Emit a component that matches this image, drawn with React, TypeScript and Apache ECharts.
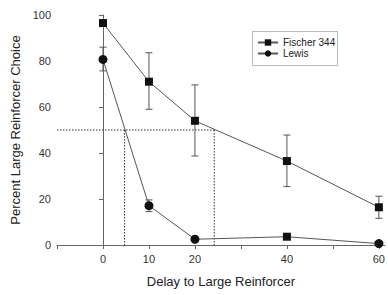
import React, { useEffect, useRef } from "react";
import * as echarts from "echarts";

const delays = [0, 10, 20, 40, 60];
const tickLabels = ["0", "10", "20", "40", "60"];
const fischerMean = [96.5, 71, 54, 36.5, 16.4];
const fischerLow = [96.5, 59, 38.7, 25.4, 11.6];
const fischerHigh = [96.5, 83.6, 69.6, 47.8, 21.2];
const lewisMean = [80.7, 17.1, 2.5, 3.6, 0.6];
const lewisLow = [75.7, 14.5, 2.5, 3.6, 0.6];
const lewisHigh = [86, 19.6, 2.5, 3.6, 0.6];
const lewisSymbols = ["circle", "circle", "circle", "rect", "circle"];
const halfPoint = 50;
const fischerCross = 24.2;
const lewisCross = 4.7;

export default function App() {
  const ref = useRef<HTMLDivElement>(null);
  useEffect(() => {
    if (!ref.current) return;
    const chart = echarts.init(ref.current, null, { renderer: "svg" });
    const errData = [
      ...delays.map((d, i) => [d, fischerLow[i], fischerHigh[i]]),
      ...delays.map((d, i) => [d, lewisLow[i], lewisHigh[i]]),
    ].filter((r) => r[2] - r[1] > 0.5);
    const font = "'Liberation Sans', Arial, sans-serif";
    const refStyle = { type: [1.5, 1.5], color: "#333", width: 1 };
    chart.setOption({
      animation: false,
      textStyle: { fontFamily: font },
      grid: { left: 57, right: 0, top: 15, bottom: 50, containLabel: false },
      legend: {
        orient: "vertical",
        left: 257,
        top: 37,
        itemWidth: 20,
        itemHeight: 8,
        itemGap: 0,
        padding: 0,
        textStyle: { fontSize: 10, color: "#222", fontFamily: font, lineHeight: 11 },
        data: ["Fischer 344", "Lewis"],
      },
      graphic: [
        {
          type: "rect",
          shape: { x: 252.5, y: 31.5, width: 85, height: 34 },
          style: { fill: "none", stroke: "#777", lineWidth: 1, lineDash: [1, 1] },
          z: 10,
        },
      ],
      xAxis: {
        type: "value",
        min: -10,
        max: 61.3,
        interval: 10,
        name: "Delay to Large Reinforcer",
        nameLocation: "middle",
        nameGap: 30,
        nameTextStyle: { fontSize: 13, color: "#222", fontFamily: font },
        splitLine: { show: false },
        axisLine: { lineStyle: { color: "#666" } },
        axisTick: { length: 4, lineStyle: { color: "#666" } },
        axisLabel: {
          fontSize: 11,
          color: "#333",
          margin: 8,
          showMaxLabel: false,
          formatter: (v: number) => {
            const idx = delays.indexOf(Math.round(v));
            return idx >= 0 && Math.abs(v - delays[idx]) < 0.01 ? tickLabels[idx] : "";
          },
        },
      },
      yAxis: {
        type: "value",
        min: 0,
        max: 100,
        interval: 20,
        name: "Percent Large Reinforcer Choice",
        nameLocation: "middle",
        nameGap: 30,
        nameTextStyle: { fontSize: 13, color: "#222", fontFamily: font },
        splitLine: { show: false },
        axisLine: { show: true, lineStyle: { color: "#666" } },
        axisTick: { show: true, length: 4, lineStyle: { color: "#666" } },
        axisLabel: { fontSize: 11, color: "#333", margin: 6 },
      },
      series: [
        {
          type: "line",
          name: "ref",
          data: [[-10, halfPoint], [fischerCross, halfPoint]],
          symbol: "none",
          silent: true,
          lineStyle: refStyle,
          z: 1,
        },
        {
          type: "line",
          name: "ref2",
          data: [[lewisCross, halfPoint], [lewisCross, 0]],
          symbol: "none",
          silent: true,
          lineStyle: refStyle,
          z: 1,
        },
        {
          type: "line",
          name: "ref3",
          data: [[fischerCross, halfPoint], [fischerCross, 0]],
          symbol: "none",
          silent: true,
          lineStyle: refStyle,
          z: 1,
        },
        {
          type: "custom",
          name: "err",
          data: errData,
          silent: true,
          z: 2,
          renderItem: (params: any, api: any) => {
            const x = api.value(0);
            const lo = api.coord([x, api.value(1)]);
            const hi = api.coord([x, api.value(2)]);
            const w = 3.5;
            const st = { stroke: "#555", lineWidth: 1 };
            return {
              type: "group",
              children: [
                { type: "line", shape: { x1: lo[0], y1: lo[1], x2: hi[0], y2: hi[1] }, style: st },
                { type: "line", shape: { x1: lo[0] - w, y1: lo[1], x2: lo[0] + w, y2: lo[1] }, style: st },
                { type: "line", shape: { x1: hi[0] - w, y1: hi[1], x2: hi[0] + w, y2: hi[1] }, style: st },
              ],
            };
          },
        },
        {
          type: "line",
          name: "Fischer 344",
          data: delays.map((d, i) => [d, fischerMean[i]]),
          symbol: "rect",
          symbolSize: 8,
          itemStyle: { color: "#111" },
          lineStyle: { color: "#555", width: 1 },
          z: 5,
        },
        {
          type: "line",
          name: "Lewis",
          symbol: "circle",
          data: delays.map((d, i) => ({
            value: [d, lewisMean[i]],
            symbol: lewisSymbols[i],
            symbolSize: lewisSymbols[i] === "rect" ? 8 : 9,
          })),
          symbolSize: 9,
          itemStyle: { color: "#111" },
          lineStyle: { color: "#555", width: 1 },
          z: 5,
        },
      ],
    });
    return () => chart.dispose();
  }, []);
  return <div ref={ref} style={{ width: 388, height: 295, position: "absolute", left: 0, top: 0 }} />;
}
